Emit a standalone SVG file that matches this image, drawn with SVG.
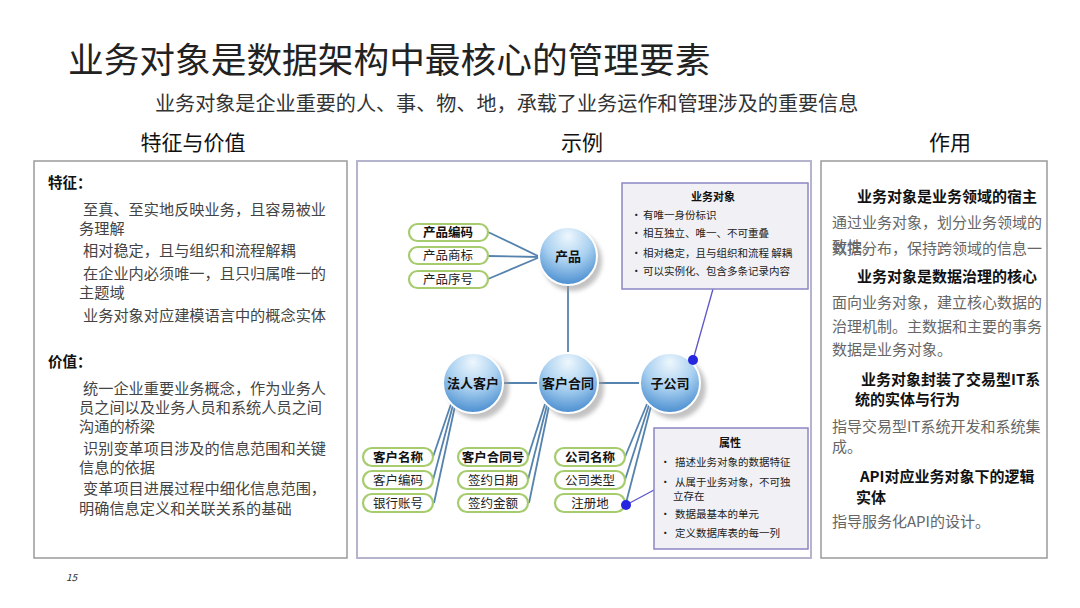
<svg xmlns="http://www.w3.org/2000/svg" width="1080" height="608" viewBox="0 0 1080 608">
<defs>
<radialGradient id="ball" cx="50%" cy="25%" r="80%" fx="50%" fy="15%">
<stop offset="0" stop-color="#eef7fd"/>
<stop offset="0.5" stop-color="#a9d0f0"/>
<stop offset="1" stop-color="#3f86cc"/>
</radialGradient>
<filter id="blur" x="-30%" y="-30%" width="160%" height="160%"><feGaussianBlur stdDeviation="2"/></filter>
<style>
text{font-family:"Noto Sans CJK SC","Liberation Sans",sans-serif;}
.panel{fill:#fff;stroke:#9a9a9a;stroke-width:1.5;}
.body{font-size:15.2px;fill:#444;}
.rb{font-size:15px;fill:#666;}
.rh{font-size:15px;fill:#111;font-weight:bold;}
.hd{font-size:21px;fill:#111;text-anchor:middle;}
.pill{fill:#fff;stroke:#a6cc6e;stroke-width:2.2;}
.pt{font-size:12.5px;fill:#222;text-anchor:middle;}
.ptb{font-size:12.5px;fill:#111;text-anchor:middle;font-weight:bold;}
.ball{fill:url(#ball);stroke:#fff;stroke-width:2;}
.shadow{fill:#9a9a9a;opacity:0.6;filter:url(#blur);}
.bt{font-size:13px;fill:#111;text-anchor:middle;font-weight:bold;}
.link{stroke:#5583ad;stroke-width:1.8;fill:none;}
.lead{stroke:#5b55c8;stroke-width:1.3;fill:none;}
.call{fill:#f1f1f5;stroke:#8a86c4;stroke-width:1.5;}
.ct{font-size:10.5px;fill:#222;}
.cth{font-size:11px;fill:#111;font-weight:bold;text-anchor:middle;}
.dot{fill:#2626e0;}
</style>
</defs>
<rect width="1080" height="608" fill="#fff"/>

<g id="title">
<text x="68" y="73" font-size="35.7" fill="#222">业务对象是数据架构中最核心的管理要素</text>
<text x="155" y="111" font-size="20.1" fill="#333">业务对象是企业重要的人、事、物、地，承载了业务运作和管理涉及的重要信息</text>
<text class="hd" x="193" y="150">特征与价值</text>
<text class="hd" x="582" y="150">示例</text>
<text class="hd" x="950" y="150">作用</text>
</g>

<g id="left-panel">
<rect class="panel" x="34" y="161" width="313" height="397"/>
<text x="48" y="188" font-size="14.5" font-weight="bold" fill="#111">特征：</text>
<text class="body" x="83" y="215">至真、至实地反映业务，且容易被业</text>
<text class="body" x="79" y="234">务理解</text>
<text class="body" x="83" y="256">相对稳定，且与组织和流程解耦</text>
<text class="body" x="83" y="279">在企业内必须唯一，且只归属唯一的</text>
<text class="body" x="79" y="298">主题域</text>
<text class="body" x="83" y="321">业务对象对应建模语言中的概念实体</text>
<text x="48" y="367" font-size="14.5" font-weight="bold" fill="#111">价值：</text>
<text class="body" x="83" y="394">统一企业重要业务概念，作为业务人</text>
<text class="body" x="79" y="413">员之间以及业务人员和系统人员之间</text>
<text class="body" x="79" y="432">沟通的桥梁</text>
<text class="body" x="83" y="454">识别变革项目涉及的信息范围和关键</text>
<text class="body" x="79" y="473">信息的依据</text>
<text class="body" x="83" y="494">变革项目进展过程中细化信息范围，</text>
<text class="body" x="79" y="514">明确信息定义和关联关系的基础</text>
</g>

<g id="example-panel">
<rect x="357" y="161" width="454" height="397" fill="#fff" stroke="#b4b4cc" stroke-width="2"/>
</g>

<g id="connectors">
<line class="link" x1="488" y1="232" x2="540" y2="257"/>
<line class="link" x1="488" y1="256" x2="540" y2="257"/>
<line class="link" x1="488" y1="279" x2="540" y2="257"/>
<line class="link" x1="568" y1="286" x2="568" y2="352"/>
<line class="link" x1="503" y1="383" x2="538" y2="383"/>
<line class="link" x1="598" y1="383" x2="640" y2="383"/>
<line class="link" x1="451" y1="404" x2="433" y2="457" stroke-width="1.4"/>
<line class="link" x1="453" y1="405" x2="433" y2="480" stroke-width="1.4"/>
<line class="link" x1="455" y1="406" x2="434" y2="503" stroke-width="1.4"/>
<line class="link" x1="545" y1="404" x2="528" y2="457" stroke-width="1.4"/>
<line class="link" x1="547" y1="405" x2="528" y2="480" stroke-width="1.4"/>
<line class="link" x1="549" y1="406" x2="529" y2="503" stroke-width="1.4"/>
<line class="link" x1="647" y1="404" x2="625" y2="457" stroke-width="1.4"/>
<line class="link" x1="649" y1="405" x2="625" y2="480" stroke-width="1.4"/>
<line class="link" x1="651" y1="406" x2="626" y2="503" stroke-width="1.4"/>
<line class="lead" x1="713" y1="289" x2="693" y2="360"/>
<line class="lead" x1="654" y1="490" x2="626" y2="505"/>
</g>

<g id="node-product">
<circle class="shadow" cx="572" cy="261" r="30"/>
<circle class="ball" cx="568" cy="256" r="29"/>
<text class="bt" x="568" y="261">产品</text>
</g>
<g id="node-legal-customer">
<circle class="shadow" cx="478" cy="388" r="31"/>
<circle class="ball" cx="473" cy="383" r="30"/>
<text class="bt" x="473" y="388">法人客户</text>
</g>
<g id="node-contract">
<circle class="shadow" cx="573" cy="388" r="31"/>
<circle class="ball" cx="568" cy="383" r="30"/>
<text class="bt" x="568" y="388">客户合同</text>
</g>
<g id="node-subsidiary">
<circle class="shadow" cx="675" cy="388" r="31"/>
<circle class="ball" cx="670" cy="383" r="30"/>
<text class="bt" x="670" y="388">子公司</text>
</g>

<g id="attr-product">
<rect class="pill" x="409" y="224" width="79" height="17" rx="8.5"/>
<text class="ptb" x="448" y="237">产品编码</text>
<rect class="pill" x="409" y="247" width="79" height="17" rx="8.5"/>
<text class="pt" x="448" y="260">产品商标</text>
<rect class="pill" x="409" y="271" width="79" height="17" rx="8.5"/>
<text class="pt" x="448" y="284">产品序号</text>
</g>
<g id="attr-customer">
<rect class="pill" x="363" y="448" width="70" height="18" rx="9"/>
<text class="ptb" x="398" y="462">客户名称</text>
<rect class="pill" x="363" y="471" width="70" height="18" rx="9"/>
<text class="pt" x="398" y="485">客户编码</text>
<rect class="pill" x="363" y="494" width="70" height="18" rx="9"/>
<text class="pt" x="398" y="508">银行账号</text>
</g>
<g id="attr-contract">
<rect class="pill" x="458" y="448" width="70" height="18" rx="9"/>
<text class="ptb" x="493" y="462">客户合同号</text>
<rect class="pill" x="458" y="471" width="70" height="18" rx="9"/>
<text class="pt" x="493" y="485">签约日期</text>
<rect class="pill" x="458" y="494" width="70" height="18" rx="9"/>
<text class="pt" x="493" y="508">签约金额</text>
</g>
<g id="attr-company">
<rect class="pill" x="555" y="448" width="70" height="18" rx="9"/>
<text class="ptb" x="590" y="462">公司名称</text>
<rect class="pill" x="555" y="471" width="70" height="18" rx="9"/>
<text class="pt" x="590" y="485">公司类型</text>
<rect class="pill" x="555" y="494" width="70" height="18" rx="9"/>
<text class="pt" x="590" y="508">注册地</text>
</g>

<g id="callout-object">
<rect class="call" x="622" y="183" width="186" height="106"/>
<text class="cth" x="713" y="201">业务对象</text>
<text class="ct" x="631" y="219">•</text><text class="ct" x="643" y="219">有唯一身份标识</text>
<text class="ct" x="631" y="237">•</text><text class="ct" x="643" y="237">相互独立、唯一、不可重叠</text>
<text class="ct" x="631" y="257">•</text><text class="ct" x="643" y="257">相对稳定，且与组织和流程 解耦</text>
<text class="ct" x="631" y="275">•</text><text class="ct" x="643" y="275">可以实例化、包含多条记录内容</text>
<circle class="dot" cx="693" cy="360" r="5"/>
</g>
<g id="callout-attr">
<rect class="call" x="654" y="428" width="154" height="121"/>
<text class="cth" x="730" y="447">属性</text>
<text class="ct" x="660" y="466">•</text><text class="ct" x="675" y="466">描述业务对象的数据特征</text>
<text class="ct" x="660" y="486">•</text><text class="ct" x="675" y="486">从属于业务对象，不可独</text>
<text class="ct" x="673" y="500">立存在</text>
<text class="ct" x="660" y="518">•</text><text class="ct" x="675" y="518">数据最基本的单元</text>
<text class="ct" x="660" y="537">•</text><text class="ct" x="675" y="537">定义数据库表的每一列</text>
<circle class="dot" cx="626" cy="505" r="5"/>
</g>

<g id="right-panel">
<rect class="panel" x="821" y="161" width="226" height="397"/>
<text class="rh" x="857" y="202">业务对象是业务领域的宿主</text>
<text class="rb" x="832" y="228">通过业务对象，划分业务领域的</text>
<text class="rb" x="832" y="254">数据分布，保持跨领域的信息一</text>
<text class="rb" x="832" y="252" fill="#444">致性。</text>
<text class="rh" x="857" y="282">业务对象是数据治理的核心</text>
<text class="rb" x="832" y="308">面向业务对象，建立核心数据的</text>
<text class="rb" x="832" y="332">治理机制。主数据和主要的事务</text>
<text class="rb" x="832" y="355">数据是业务对象。</text>
<text class="rh" x="861" y="385">业务对象封装了交易型IT系</text>
<text class="rh" x="855" y="405">统的实体与行为</text>
<text class="rb" x="832" y="432">指导交易型IT系统开发和系统集</text>
<text class="rb" x="832" y="452">成。</text>
<text class="rh" x="860" y="482">API对应业务对象下的逻辑</text>
<text class="rh" x="856" y="503">实体</text>
<text class="rb" x="832" y="527">指导服务化API的设计。</text>
</g>

<text x="66" y="581" font-size="10" font-style="italic" fill="#333">15</text>
</svg>
